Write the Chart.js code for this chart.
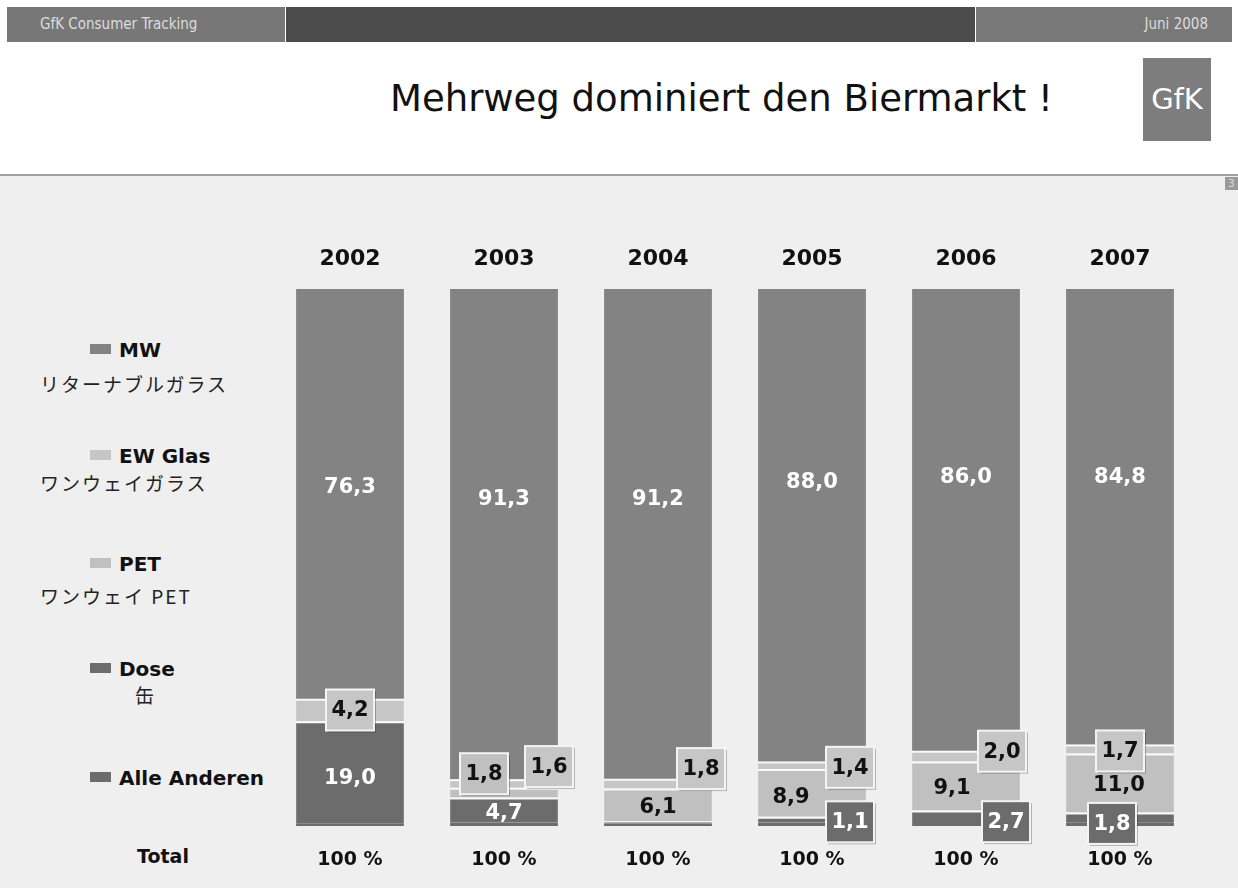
<!DOCTYPE html>
<html>
<head>
<meta charset="utf-8">
<script src="https://cdn.jsdelivr.net/npm/chart.js@4.4.1/dist/chart.umd.min.js"></script>
<style>
  body { margin: 0; width: 1238px; height: 888px; background: #fff; position: relative; overflow: hidden; font-family: "DejaVu Sans", sans-serif; }
  .hdr { position: absolute; top: 7px; height: 35px; }
  #panel { position: absolute; left: 0; top: 174px; width: 1238px; height: 714px; background: #efefef; border-top: 2px solid #a0a0a0; }
  #title { position: absolute; left: 390px; top: 77px; font-size: 37px; color: #111; white-space: nowrap; }
  #logo { position: absolute; left: 1143px; top: 58px; width: 68px; height: 83px; background: #7d7d7d; color: #fff; font-size: 29px; line-height: 83px; text-align: center; }
  #page { position: absolute; left: 1225px; top: 177px; width: 13px; height: 13px; background: #9a9a9a; color: #ddd; font-size: 10px; line-height: 13px; text-align: center; }
  .leg { position: absolute; font-weight: bold; font-size: 20px; color: #111; white-space: nowrap; }
  .leg i { display: inline-block; width: 21px; height: 10px; margin-right: 8px; vertical-align: 3px; }
  .jp { position: absolute; font-family: "Noto Sans CJK JP", sans-serif; font-size: 19px; color: #222; letter-spacing: 2px; white-space: nowrap; }
  canvas { position: absolute; left: 0; top: 0; }
</style>
</head>
<body>
<div class="hdr" style="left:7px;width:278px;background:#777;color:#ddd;font-family:'DejaVu Sans Condensed','DejaVu Sans';font-size:15px;line-height:35px;padding-left:33px;box-sizing:border-box;">GfK Consumer Tracking</div>
<div class="hdr" style="left:286px;width:689px;background:#4b4b4b;"></div>
<div class="hdr" style="left:976px;width:256px;background:#787878;color:#ddd;font-family:'DejaVu Sans Condensed','DejaVu Sans';font-size:15px;line-height:35px;text-align:right;padding-right:24px;box-sizing:border-box;">Juni 2008</div>
<div id="title">Mehrweg dominiert den Biermarkt !</div>
<div id="logo">GfK</div>
<div id="panel"></div>
<div id="page">3</div>
<div id="legend"></div>
<canvas id="chart" width="1238" height="888"></canvas>
<script>
const years = ['2002', '2003', '2004', '2005', '2006', '2007']
const mw = [76.3, 91.3, 91.2, 88.0, 86.0, 84.8]
const ewGlas = [4.2, 1.6, 1.8, 1.4, 2.0, 1.7]
const pet = [0, 1.8, 6.1, 8.9, 9.1, 11.0]
const dose = [19.0, 4.7, 0.5, 1.1, 2.7, 1.8]
const alleAnderen = [0.5, 0.6, 0.4, 0.6, 0.2, 0.7]
const totals = ['100 %', '100 %', '100 %', '100 %', '100 %', '100 %']

const legendItems = [
  { name: 'MW', jp: 'リターナブルガラス', color: '#838383', y: 338, jpX: 40, jpY: 370 },
  { name: 'EW Glas', jp: 'ワンウェイガラス', color: '#c6c6c6', y: 444, jpX: 40, jpY: 469 },
  { name: 'PET', jp: 'ワンウェイ PET', color: '#c0c0c0', y: 552, jpX: 40, jpY: 582 },
  { name: 'Dose', jp: '缶', color: '#6c6c6c', y: 657, jpX: 135, jpY: 681 },
  { name: 'Alle Anderen', jp: '', color: '#6c6c6c', y: 766 }
]

const legend = document.getElementById('legend')
legendItems.forEach(it => {
  const d = document.createElement('div')
  d.className = 'leg'
  d.style.left = '90px'
  d.style.top = it.y + 'px'
  d.innerHTML = '<i style="background:' + it.color + '"></i>' + it.name
  legend.appendChild(d)
  if (it.jp) {
    const j = document.createElement('div')
    j.className = 'jp'
    j.style.left = it.jpX + 'px'
    j.style.top = it.jpY + 'px'
    j.textContent = it.jp
    legend.appendChild(j)
  }
})
const total = document.createElement('div')
total.className = 'leg'
total.style.left = '137px'
total.style.top = '845px'
total.style.fontSize = '19px'
total.textContent = 'Total'
legend.appendChild(total)

// how each segment is labelled: 'in' = text in the bar, 'box' = boxed label
const labelMode = {
  MW: ['in', 'in', 'in', 'in', 'in', 'in'],
  EW: ['box', 'box', 'box', 'box', 'box', 'box'],
  PET: [null, 'box', 'in', 'in', 'in', 'in'],
  Dose: ['in', 'in', null, 'box', 'box', 'box']
}
// pixel nudges for labels that sit off the segment centre
const nudge = {
  'MW:0': [0, 25], 'MW:1': [0, 4], 'MW:2': [0, 4], 'MW:3': [0, -6], 'MW:4': [0, -6], 'MW:5': [0, -4],
  'EW:1': [45, -17], 'EW:2': [43, -15], 'EW:3': [38, 2], 'EW:4': [36, -5], 'EW:5': [0, 2],
  'PET:1': [-20, -19], 'PET:2': [0, 2], 'PET:3': [-21, 4], 'PET:4': [-14, 2], 'PET:5': [-1, 2],
  'Dose:0': [0, 5], 'Dose:1': [0, 2], 'Dose:3': [38, 2], 'Dose:4': [40, 4], 'Dose:5': [-8, 6]
}

const fmt = v => v.toFixed(1).replace('.', ',')

const labelPlugin = {
  id: 'labels',
  afterDatasetsDraw(chart) {
    const ctx = chart.ctx
    const xs = chart.scales.x
    ctx.save()
    ctx.textAlign = 'center'
    ctx.textBaseline = 'middle'
    ctx.font = 'bold 22px "DejaVu Sans"'
    ctx.fillStyle = '#111'
    years.forEach((y, i) => ctx.fillText(y, xs.getPixelForValue(i), 259))
    ctx.font = 'bold 19px "DejaVu Sans"'
    totals.forEach((t, i) => ctx.fillText(t, xs.getPixelForValue(i), 860))

    ctx.font = 'bold 21px "DejaVu Sans"'
    chart.data.datasets.forEach((ds, di) => {
      const modes = labelMode[ds.key]
      if (!modes) return
      const meta = chart.getDatasetMeta(di)
      meta.data.forEach((bar, i) => {
        const mode = modes[i]
        if (!mode) return
        const n = nudge[ds.key + ':' + i] || [0, 0]
        let cy = (bar.y + bar.base) / 2
        if (ds.key === 'MW') cy = bar.y + (bar.base - bar.y) * 0.42
        const x = bar.x + n[0]
        const y = cy + n[1]
        const dark = ds.key === 'MW' || ds.key === 'Dose'
        if (mode === 'box') {
          const w = 48, h = 41
          ctx.fillStyle = 'rgba(0,0,0,0.25)'
          ctx.fillRect(x - w / 2 + 2, y - h / 2 + 2, w, h)
          ctx.fillStyle = ds.backgroundColor
          ctx.fillRect(x - w / 2, y - h / 2, w, h)
          ctx.strokeStyle = '#f4f4f4'
          ctx.lineWidth = 2
          ctx.strokeRect(x - w / 2, y - h / 2, w, h)
        }
        ctx.fillStyle = dark ? '#fff' : '#111'
        ctx.fillText(fmt(ds.data[i]), x, y + 1)
      })
    })
    ctx.restore()
  }
}

const seg = (key, label, data, color, border) => ({
  key: key,
  label: label,
  data: data,
  backgroundColor: color,
  borderColor: '#fbfbfb',
  borderWidth: border ? { top: 2, right: 0, bottom: 0, left: 0 } : 0,
  borderSkipped: false
})

new Chart(document.getElementById('chart'), {
  type: 'bar',
  data: {
    labels: years,
    datasets: [
      seg('Andere', 'Alle Anderen', alleAnderen, '#6c6c6c', false),
      seg('Dose', 'Dose', dose, '#6c6c6c', true),
      seg('PET', 'PET', pet, '#c0c0c0', true),
      seg('EW', 'EW Glas', ewGlas, '#c6c6c6', true),
      seg('MW', 'MW', mw, '#838383', false)
    ]
  },
  options: {
    responsive: false,
    animation: false,
    layout: { padding: { left: 273, right: 41, top: 289, bottom: 62 } },
    datasets: { bar: { categoryPercentage: 1, barPercentage: 0.7 } },
    plugins: { legend: { display: false }, tooltip: { enabled: false } },
    scales: {
      x: { stacked: true, display: false },
      y: { stacked: true, display: false, min: 0, max: 100 }
    }
  },
  plugins: [labelPlugin]
})
</script>
</body>
</html>
